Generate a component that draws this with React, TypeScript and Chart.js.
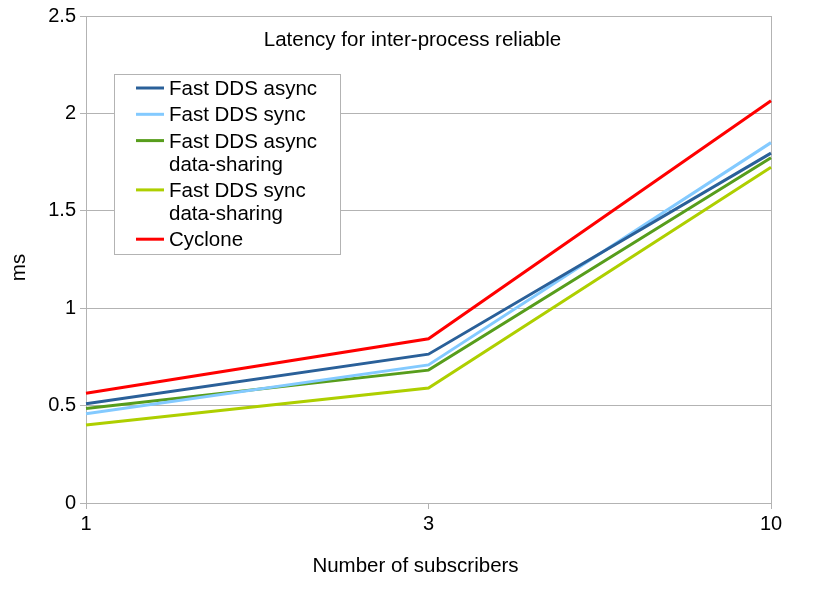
import React, { useEffect, useRef } from "react";
import { Chart, registerables } from "chart.js";

Chart.register(...registerables);

const categories = ["1", "3", "10"];
const seriesNames = [
  "Fast DDS async",
  "Fast DDS sync",
  "Fast DDS async data-sharing",
  "Fast DDS sync data-sharing",
  "Cyclone",
];
const legendLines = [
  ["Fast DDS async"],
  ["Fast DDS sync"],
  ["Fast DDS async", "data-sharing"],
  ["Fast DDS sync", "data-sharing"],
  ["Cyclone"],
];
const fastAsync = [0.509, 0.764, 1.796];
const fastSync = [0.458, 0.709, 1.85];
const fastAsyncShm = [0.485, 0.682, 1.772];
const fastSyncShm = [0.4, 0.59, 1.724];
const cyclone = [0.563, 0.843, 2.065];
const seriesValues = [fastAsync, fastSync, fastAsyncShm, fastSyncShm, cyclone];
const seriesColors = ["#2a6099", "#83caff", "#579d1c", "#aecf00", "#ff0000"];
const yTicks = [0, 0.5, 1, 1.5, 2, 2.5];

const chartTitle = "Latency for inter-process reliable";
const xTitle = "Number of subscribers";
const yTitle = "ms";

const FONT = "'Liberation Sans', Arial, sans-serif";
const GRID = "#b3b3b3";

const overlayPlugin = {
  id: "overlay",
  afterDraw(chart: any) {
    const ctx = chart.ctx as CanvasRenderingContext2D;
    ctx.save();
    ctx.fillStyle = "#000";
    ctx.font = `20.5px ${FONT}`;
    ctx.textAlign = "center";
    ctx.textBaseline = "alphabetic";
    ctx.fillText(chartTitle, 412.5, 46);
    ctx.fillText(xTitle, 415.5, 572);
    ctx.save();
    ctx.translate(25, 267.5);
    ctx.rotate(-Math.PI / 2);
    ctx.fillText(yTitle, 0, 0);
    ctx.restore();

    // legend
    ctx.strokeStyle = GRID;
    ctx.lineWidth = 1;
    ctx.fillStyle = "#fff";
    ctx.fillRect(114.5, 74.5, 226, 180);
    ctx.strokeRect(114.5, 74.5, 226, 180);
    let y = 88;
    ctx.textAlign = "left";
    chart.data.datasets.forEach((ds: any, i: number) => {
      ctx.strokeStyle = ds.borderColor;
      ctx.lineWidth = 3;
      ctx.beginPath();
      ctx.moveTo(136, y);
      ctx.lineTo(164, y);
      ctx.stroke();
      ctx.fillStyle = "#000";
      const lines = legendLines[i];
      lines.forEach((t, j) => {
        ctx.fillText(t, 169, y + 7 + j * 23);
      });
      y += 26.3 + 23 * (lines.length - 1);
    });
    ctx.restore();
  },
};

export default function App() {
  const ref = useRef<HTMLCanvasElement | null>(null);
  useEffect(() => {
    document.body.style.margin = "0";
    if (!ref.current) return;
    const chart = new Chart(ref.current, {
      type: "line",
      data: {
        labels: categories,
        datasets: seriesValues.map((vals, i) => ({
          label: seriesNames[i],
          data: vals,
          borderColor: seriesColors[i],
          backgroundColor: seriesColors[i],
          borderWidth: 3,
          pointRadius: 0,
          tension: 0,
          fill: false,
        })),
      },
      options: {
        animation: false,
        responsive: false,
        devicePixelRatio: 1,
        layout: { padding: { top: 13, right: 54, left: 0, bottom: 0 } },
        plugins: {
          legend: { display: false },
          title: { display: false },
          tooltip: { enabled: false },
        },
        scales: {
          x: {
            type: "category",
            offset: false,
            afterFit(scale: any) {
              scale.height = 103;
            },
            grid: {
              color: (c: any) => (c.index === categories.length - 1 ? GRID : "rgba(0,0,0,0)"),
              tickColor: GRID,
              tickLength: 6,
              drawOnChartArea: true,
            },
            border: { color: GRID, width: 1 },
            ticks: {
              color: "#000",
              font: { family: FONT, size: 20 },
              padding: 3,
              maxRotation: 0,
              autoSkip: false,
            },
          },
          y: {
            min: 0,
            max: 2.5,
            afterFit(scale: any) {
              scale.width = 86;
            },
            afterBuildTicks(scale: any) {
              scale.ticks = yTicks.map((v) => ({ value: v }));
            },
            grid: { color: GRID, tickColor: GRID, tickLength: 6 },
            border: { color: GRID, width: 1 },
            ticks: {
              color: "#000",
              font: { family: FONT, size: 20 },
              padding: 4,
              callback: (v: any) => String(v),
            },
          },
        },
      },
      plugins: [overlayPlugin],
    });
    return () => chart.destroy();
  }, []);
  return (
    <div style={{ position: "absolute", left: 0, top: 0, width: 825, height: 606, background: "#fff" }}>
      <canvas ref={ref} width={825} height={606} style={{ width: 825, height: 606, display: "block" }} />
    </div>
  );
}
